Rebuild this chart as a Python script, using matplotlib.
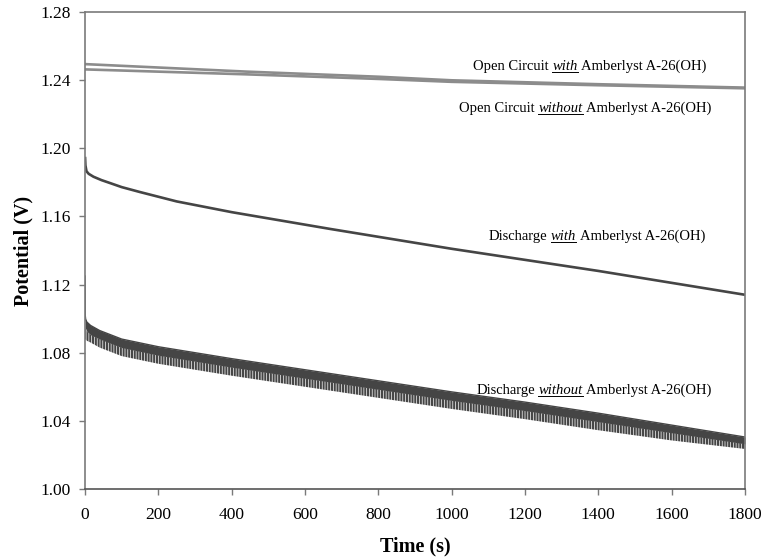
import matplotlib
matplotlib.use("Agg")
import matplotlib.pyplot as plt
from matplotlib.transforms import IdentityTransform

plt.rcParams.update({
    "font.family": ["Liberation Serif", "DejaVu Serif"],
    "hatch.linewidth": 1.5,
})
LIGHT, DARK, AXC = "#8c8c8c", "#454545", "#7a7a7a"

# open circuit, with / without Amberlyst A-26(OH)
T_OC = [0, 440, 800, 1000, 1400, 1800]
OC_WITH = [1.2494, 1.2450, 1.2420, 1.2399, 1.2376, 1.2356]
OC_WITHOUT = [1.2463, 1.2434, 1.2407, 1.2390, 1.2370, 1.2352]

# discharge with Amberlyst
T_DC = [0, 1, 4, 10, 23, 45, 68, 100, 150, 250, 400, 670, 1000, 1400, 1800]
DC_WITH = [1.195, 1.190, 1.1865, 1.185, 1.1833, 1.1813, 1.1796, 1.1772, 1.1743, 1.1688,
           1.1625, 1.1526, 1.1410, 1.1280, 1.1140]

# discharge without Amberlyst: pulsed, read as top edge / solid bottom / tooth tips
T_DW = [0, 5, 15, 40, 100, 200, 400, 600, 800, 1000, 1200, 1400, 1600, 1800]
DW_TOP = [1.1000, 1.0980, 1.0960, 1.0930, 1.0880, 1.0835, 1.0765, 1.0700, 1.0635, 1.0570,
          1.0510, 1.0445, 1.0375, 1.0305]
DW_MID = [1.0950, 1.0925, 1.0905, 1.0880, 1.0830, 1.0785, 1.0715, 1.0650, 1.0585, 1.0520,
          1.0460, 1.0395, 1.0330, 1.0265]
DW_LOW = [1.0880, 1.0870, 1.0860, 1.0830, 1.0780, 1.0735, 1.0665, 1.0600, 1.0535, 1.0470,
          1.0410, 1.0345, 1.0285, 1.0235]
T_SPIKE = [0, 0.5, 2]
DW_SPIKE = [1.125, 1.102, 1.099]

XTICKS = [0, 200, 400, 600, 800, 1000, 1200, 1400, 1600, 1800]
YTICKS = [1.00, 1.04, 1.08, 1.12, 1.16, 1.20, 1.24, 1.28]

fig = plt.figure(figsize=(7.64, 5.6), dpi=100)
ax = fig.add_axes([0.1113, 0.1268, 0.8638, 0.8518])
ax.set_xlim(0, 1800)
ax.set_ylim(1.00, 1.28)

ax.plot(T_OC, OC_WITH, color=LIGHT, lw=1.9, solid_capstyle="butt")
ax.plot(T_OC, OC_WITHOUT, color=LIGHT, lw=1.9, solid_capstyle="butt")
ax.plot(T_DC, DC_WITH, color=DARK, lw=1.9, solid_capstyle="butt")

ax.plot(T_SPIKE, DW_SPIKE, color=DARK, lw=1.0)
ax.plot(T_DW, DW_TOP, color=DARK, lw=1.0)
ax.fill_between(T_DW, DW_TOP, DW_MID, color=DARK, lw=0)
ax.fill_between(T_DW, DW_MID, DW_LOW, facecolor="none", edgecolor=DARK, hatch="||||||", lw=0)

ax.set_xticks(XTICKS)
ax.set_yticks(YTICKS)
ax.set_yticklabels([f"{v:.2f}" for v in YTICKS])
ax.tick_params(direction="out", length=4, width=1.0, color=AXC, labelsize=12.5,
               labelcolor="black")
ax.tick_params(axis="x", pad=9)
ax.tick_params(axis="y", pad=6)
for side in ["left", "bottom", "right", "top"]:
    ax.spines[side].set_color(AXC)
    ax.spines[side].set_linewidth(1.2)
ax.spines["bottom"].set_color("#555555")

ax.set_xlabel("Time (s)", fontsize=14.5, fontweight="bold", labelpad=10)
ax.set_ylabel("Potential (V)", fontsize=14.5, fontweight="bold", labelpad=5)

# curve labels: italic underlined middle word, right edge at (t, V) baseline
LBL_FS = 10.5
r = fig.canvas.get_renderer()


def width(s, style="normal"):
    t = ax.text(0, 0, s, fontsize=LBL_FS, style=style)
    w = t.get_window_extent(r).width
    t.remove()
    return w


GAP = width("a a") - width("aa")


def curve_label(t_right, v_base, pre, word, post):
    parts = [(pre, "normal"), (word, "italic"), (post, "normal")]
    ws = [width(s, st) for s, st in parts]
    x_r, y0 = ax.transData.transform((t_right, v_base))
    x = x_r - sum(ws) - 2 * GAP
    for (s, st), w in zip(parts, ws):
        ax.text(x, y0, s, transform=IdentityTransform(), ha="left", va="baseline",
                fontsize=LBL_FS, style=st, color="black")
        if st == "italic":
            ax.plot([x, x + w], [y0 - 2, y0 - 2], transform=IdentityTransform(),
                    color="black", lw=0.7)
        x += w + GAP


curve_label(1696, 1.2460, "Open Circuit", "with", "Amberlyst A-26(OH)")
curve_label(1709, 1.2213, "Open Circuit", "without", "Amberlyst A-26(OH)")
curve_label(1691, 1.1462, "Discharge", "with", "Amberlyst A-26(OH)")
curve_label(1709, 1.0558, "Discharge", "without", "Amberlyst A-26(OH)")

fig.savefig("out.png", dpi=100)
